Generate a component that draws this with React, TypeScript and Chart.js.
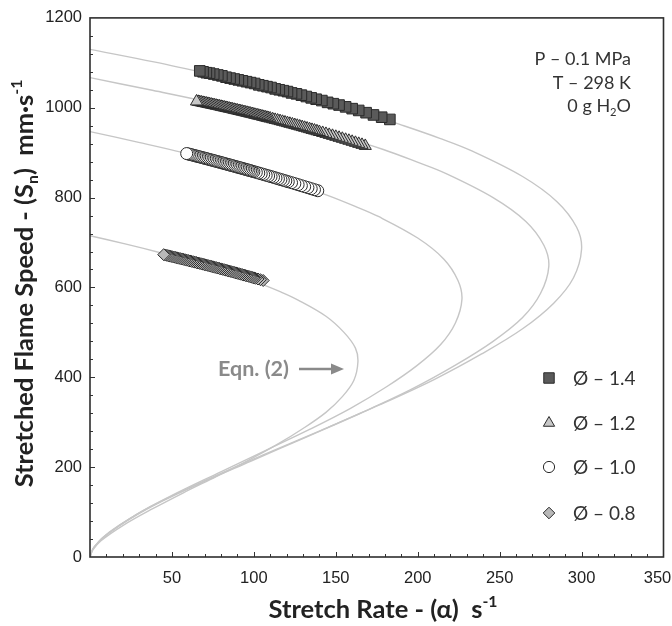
import React, { useEffect, useRef } from 'react';
import { Chart, registerables } from 'chart.js';

Chart.register(...registerables);

// ---------- data ----------
const xTickLabels = [50, 100, 150, 200, 250, 300, 350];
const yTickLabels = [0, 200, 400, 600, 800, 1000, 1200];
const seriesLabels = ['Ø – 1.4', 'Ø – 1.2', 'Ø – 1.0', 'Ø – 0.8'];

// measured points (stretch rate s^-1, stretched flame speed mm/s), in time order
const phi14Rate = [183, 178, 173, 168.5, 164, 160, 156, 152, 148.5, 145, 141.5, 138, 135, 132, 129, 126, 123, 120.5, 118, 115.5, 113, 110.5, 108, 105.5, 103, 100.5, 98, 95.5, 93, 90.5, 88, 85.5, 83, 80.5, 78, 75.5, 73, 71, 69, 67];
const phi14Speed = [974, 979, 984, 989, 994, 998, 1002, 1006, 1009, 1012, 1016, 1019, 1022, 1025, 1028, 1031, 1033, 1036, 1038, 1040, 1042, 1045, 1047, 1049, 1051, 1054, 1056, 1058, 1060, 1062, 1064, 1066, 1068, 1071, 1073, 1075, 1077, 1078, 1080, 1082];

const phi12Rate = [168, 166, 164, 162, 160, 158, 156, 154, 152, 150, 148, 146, 144, 142, 140,
  138.5, 137, 135.5, 134, 132.5, 131, 129.5, 128, 126.5, 125, 123.5, 122, 120.5, 119, 117.5, 116, 114.5, 113, 111.5, 110,
  109, 108, 107, 106, 105, 104, 103, 102, 101, 100, 99, 98, 97, 96, 95, 94, 93, 92, 91, 90, 89, 88, 87, 86, 85, 84, 83, 82, 81, 80, 79, 78, 77, 76, 75, 74, 73, 72, 71, 70, 69, 68, 67, 66, 65];
const phi12Speed = [915, 917.4, 919.6, 921.9, 924.2, 926.5, 928.7, 930.9, 933.1, 935.3, 937.5, 939.6, 941.8, 943.9, 946,
  947.6, 949.2, 950.7, 952.3, 953.8, 955.4, 956.9, 958.4, 959.9, 961.4, 962.9, 964.3, 965.8, 967.3, 968.7, 970.2, 971.6, 973, 974.4, 975.9,
  976.8, 977.7, 978.6, 979.6, 980.5, 981.4, 982.3, 983.2, 984.1, 985, 985.9, 986.8, 987.7, 988.6, 989.4, 990.3, 991.2, 992.1, 992.9, 993.8, 994.6, 995.5, 996.3, 997.2, 998, 998.9, 999.7, 1000.5, 1001.3, 1002.2, 1003, 1003.8, 1004.6, 1005.4, 1006.2, 1007, 1007.8, 1008.6, 1009.4, 1010.2, 1010.9, 1011.7, 1012.5, 1013.2, 1014];

const phi10Rate = [139, 137, 135, 133, 131, 129, 127, 125, 123, 121,
  119.5, 118, 116.5, 115, 113.5, 112, 110.5, 109, 107.5, 106, 104.5, 103, 101.5, 100,
  99, 98, 97, 96, 95, 94, 93, 92, 91, 90, 89, 88, 87, 86, 85, 84, 83, 82, 81, 80, 79, 78, 77, 76, 75, 74, 73, 72, 71, 70, 69, 68, 67, 66, 65, 64, 63, 62, 61, 60, 59];
const phi10Speed = [815.3, 817.6, 819.8, 822.1, 824.3, 826.5, 828.8, 831, 833.2, 835.3,
  837, 838.6, 840.2, 841.8, 843.5, 845.1, 846.7, 848.3, 849.8, 851.4, 853, 854.6, 856.1, 857.7,
  858.7, 859.8, 860.8, 861.8, 862.8, 863.9, 864.9, 865.9, 866.9, 867.9, 868.9, 869.9, 870.9, 871.9, 872.9, 873.9, 874.9, 875.9, 876.9, 877.9, 878.9, 879.9, 880.8, 881.8, 882.8, 883.8, 884.7, 885.7, 886.7, 887.6, 888.6, 889.5, 890.5, 891.4, 892.4, 893.3, 894.3, 895.2, 896.1, 897.1, 898];

const phi08Rate = [105.7, 104, 102.5, 101,
  100, 99, 98, 97, 96, 95, 94, 93, 92, 91, 90, 89, 88, 87, 86, 85, 84, 83, 82, 81, 80, 79, 78, 77, 76, 75, 74, 73, 72, 71, 70, 69, 68, 67, 66, 65, 64, 63, 62, 61, 60, 59, 58, 57, 56, 55, 54, 53, 52, 51, 50, 49, 48, 47, 46, 45];
const phi08Speed = [615.5, 617.3, 618.8, 620.4,
  621.4, 622.4, 623.5, 624.5, 625.5, 626.5, 627.5, 628.5, 629.5, 630.5, 631.5, 632.5, 633.5, 634.5, 635.5, 636.4, 637.4, 638.4, 639.4, 640.3, 641.3, 642.3, 643.2, 644.2, 645.1, 646.1, 647, 647.9, 648.9, 649.8, 650.8, 651.7, 652.6, 653.5, 654.4, 655.4, 656.3, 657.2, 658.1, 659, 659.9, 660.8, 661.7, 662.6, 663.5, 664.3, 665.2, 666.1, 667, 667.8, 668.7, 669.6, 670.4, 671.3, 672.1, 673];

// Eqn. (2) curves
const eqn14Rate = [0, 39, 75.5, 109, 139, 167, 191.5, 213.5, 233, 264, 285, 297, 300, 295, 283, 264, 239, 210, 177, 141, 105, 70, 37.5, 12, 2.6, 0];
const eqn14Speed = [1130, 1102, 1073, 1045, 1017, 989, 960, 932, 904, 847, 791, 734, 685, 621, 565, 508, 452, 395, 339, 282, 226, 170, 113, 56, 23, 0];

const eqn12Rate = [0, 36.5, 70.5, 101.5, 130, 155.5, 179, 199, 217, 246, 266, 277, 280, 275, 264, 246, 223, 196, 165, 132, 98, 65, 35, 11.4, 2.4, 0];
const eqn12Speed = [1067, 1040, 1014, 987, 960, 934, 907, 880, 854, 800, 747, 694, 647, 587, 533, 480, 427, 373, 320, 267, 213, 160, 107, 53, 21, 0];

const eqn10Rate = [0, 29.7, 57, 82, 105, 126, 145, 161.5, 176, 200, 216, 224.5, 227, 223, 214, 199.5, 181, 159, 134, 107, 79.5, 52.7, 28.4, 9.2, 1.9, 0];
const eqn10Speed = [947, 923, 900, 876, 852, 829, 805, 781, 758, 710, 663, 616, 574, 521, 473, 426, 379, 331, 284, 237, 189, 142, 95, 47, 19, 0];

const eqn08Rate = [0, 21.4, 41.2, 59.3, 76, 91, 104.4, 116.4, 127, 144, 155, 162, 163.5, 161, 154, 144, 130, 114, 96, 77, 57, 38, 20.5, 6.7, 1.4, 0];
const eqn08Speed = [715, 697, 679, 661, 643, 626, 608, 590, 572, 536, 500, 465, 434, 393, 357, 322, 286, 250, 214, 179, 143, 107, 71, 36, 14, 0];

const conditionLines = ['P – 0.1 MPa', 'T – 298 K'];

// ---------- styles ----------
const markerStyles = ['rect', 'triangle', 'circle', 'rectRot'];
const markerFills = ['#5a5a5a', '#c8c8c8', '#ffffff', '#b8b8b8'];
const markerRadii = [7.5, 7, 6, 6];
const legendRadii = [7.4, 6.5, 5.6, 5.8];
const TITLE_FAMILY = 'Lato, "Open Sans", sans-serif';
const TICK_FAMILY = '"Liberation Sans", Arial, sans-serif';
const INK = '#222222';

type Seg = { t: string; k?: 'sub' | 'sup' };

function richText(
  ctx: CanvasRenderingContext2D,
  segs: Seg[],
  x: number,
  y: number,
  size: number,
  weight: string,
  family: string,
  color: string,
  align: 'left' | 'right' | 'center'
) {
  const fontOf = (s: Seg) => `${weight} ${s.k ? size * 0.62 : size}px ${family}`;
  const widths = segs.map((s) => {
    ctx.font = fontOf(s);
    return ctx.measureText(s.t).width;
  });
  const total = widths.reduce((a, b) => a + b, 0);
  let cx = align === 'left' ? x : align === 'right' ? x - total : x - total / 2;
  ctx.fillStyle = color;
  ctx.textAlign = 'left';
  ctx.textBaseline = 'alphabetic';
  segs.forEach((s, i) => {
    ctx.font = fontOf(s);
    const dy = s.k === 'sub' ? size * 0.2 : s.k === 'sup' ? -size * 0.42 : 0;
    ctx.fillText(s.t, cx, y + dy);
    cx += widths[i];
  });
}

function marker(ctx: CanvasRenderingContext2D, style: string, x: number, y: number, r: number, fill: string) {
  ctx.save();
  ctx.beginPath();
  if (style === 'rect') {
    const s = r * Math.SQRT1_2;
    ctx.rect(x - s, y - s, 2 * s, 2 * s);
  } else if (style === 'triangle') {
    for (let i = 0; i < 3; i++) {
      const a = (i * 2 * Math.PI) / 3;
      const px = x + Math.sin(a) * r;
      const py = y - Math.cos(a) * r;
      if (i === 0) ctx.moveTo(px, py);
      else ctx.lineTo(px, py);
    }
    ctx.closePath();
  } else if (style === 'circle') {
    ctx.arc(x, y, r, 0, Math.PI * 2);
  } else {
    ctx.moveTo(x - r, y);
    ctx.lineTo(x, y - r);
    ctx.lineTo(x + r, y);
    ctx.lineTo(x, y + r);
    ctx.closePath();
  }
  ctx.fillStyle = fill;
  ctx.fill();
  ctx.lineWidth = 1;
  ctx.strokeStyle = '#2a2a2a';
  ctx.stroke();
  ctx.restore();
}

const decorPlugin = {
  id: 'decor',
  beforeDraw(chart: any) {
    const xs = chart.scales.x;
    if (xs && xs.getLabelItems) {
      const items = xs.getLabelItems();
      for (const it of items) {
        if (it.label === '350' && !it.__shifted) {
          it.options.translation[0] -= 6;
          it.__shifted = true;
        }
      }
    }
  },
  afterDraw(chart: any) {
    const ctx: CanvasRenderingContext2D = chart.ctx;
    const { left, right, top, bottom } = chart.chartArea;
    const xs = chart.scales.x;
    const ys = chart.scales.y;
    ctx.save();

    // inward tick marks
    ctx.strokeStyle = '#333';
    ctx.lineWidth = 1;
    xs.ticks.forEach((t: any) => {
      const v = t.value;
      if (v <= 0 || v >= 350) return;
      const px = Math.round(xs.getPixelForValue(v)) + 0.5;
      const len = v % 50 === 0 ? 5 : 3;
      ctx.beginPath();
      ctx.moveTo(px, bottom);
      ctx.lineTo(px, bottom - len);
      ctx.stroke();
    });
    ys.ticks.forEach((t: any) => {
      const v = t.value;
      if (v <= 0 || v >= 1200) return;
      const py = Math.round(ys.getPixelForValue(v)) + 0.5;
      const len = v % 200 === 0 ? 5 : 3;
      ctx.beginPath();
      ctx.moveTo(left, py);
      ctx.lineTo(left + len, py);
      ctx.stroke();
    });

    // frame
    ctx.lineWidth = 1.6;
    ctx.strokeStyle = '#2e2e2e';
    ctx.strokeRect(left, top, right - left, bottom - top);

    // axis titles
    richText(ctx, [{ t: 'Stretch Rate - (α)  s' }, { t: '-1', k: 'sup' }], 383, 618, 25.5, 'bold', TITLE_FAMILY, INK, 'center');
    ctx.save();
    ctx.translate(33, 283.5);
    ctx.rotate(-Math.PI / 2);
    richText(
      ctx,
      [{ t: 'Stretched Flame Speed - (S' }, { t: 'n', k: 'sub' }, { t: ')  mm·s' }, { t: '-1', k: 'sup' }],
      0,
      0,
      25.5,
      'bold',
      TITLE_FAMILY,
      INK,
      'center'
    );
    ctx.restore();

    // conditions
    richText(ctx, [{ t: conditionLines[0] }], 631, 65, 18, 'normal', TITLE_FAMILY, '#333', 'right');
    richText(ctx, [{ t: conditionLines[1] }], 631, 89, 18, 'normal', TITLE_FAMILY, '#333', 'right');
    richText(ctx, [{ t: '0 g H' }, { t: '2', k: 'sub' }, { t: 'O' }], 631, 112, 18, 'normal', TITLE_FAMILY, '#333', 'right');

    // Eqn. (2) label and arrow
    richText(ctx, [{ t: 'Eqn. (2)' }], 218, 376, 21.5, 'bold', TITLE_FAMILY, '#8a8a8a', 'left');
    ctx.strokeStyle = '#8a8a8a';
    ctx.fillStyle = '#8a8a8a';
    ctx.lineWidth = 2.5;
    ctx.beginPath();
    ctx.moveTo(299, 369);
    ctx.lineTo(333, 369);
    ctx.stroke();
    ctx.beginPath();
    ctx.moveTo(331, 363.5);
    ctx.lineTo(344, 369);
    ctx.lineTo(331, 374.5);
    ctx.closePath();
    ctx.fill();

    // legend
    const rows = [378, 423, 467, 513];
    seriesLabels.forEach((lab, i) => {
      marker(ctx, markerStyles[i], 549, rows[i], legendRadii[i], markerFills[i]);
      richText(ctx, [{ t: lab }], 573, rows[i] + 6.5, 19, 'normal', TITLE_FAMILY, '#333', 'left');
    });

    ctx.restore();
  },
};

function pts(xs: number[], ys: number[]) {
  return xs.map((x, i) => ({ x, y: ys[i] }));
}

export default function App() {
  const ref = useRef<HTMLCanvasElement>(null);

  useEffect(() => {
    if (!ref.current) return;
    const marks = [
      [phi14Rate, phi14Speed],
      [phi12Rate, phi12Speed],
      [phi10Rate, phi10Speed],
      [phi08Rate, phi08Speed],
    ];
    const curves = [
      [eqn14Rate, eqn14Speed],
      [eqn12Rate, eqn12Speed],
      [eqn10Rate, eqn10Speed],
      [eqn08Rate, eqn08Speed],
    ];
    const datasets: any[] = [];
    marks.forEach(([r, s], i) => {
      datasets.push({
        label: seriesLabels[i],
        data: pts(r, s),
        showLine: false,
        pointStyle: markerStyles[i],
        pointRadius: markerRadii[i],
        pointBackgroundColor: markerFills[i],
        pointBorderColor: '#2a2a2a',
        pointBorderWidth: 1,
      });
    });
    curves.forEach(([r, s], i) => {
      datasets.push({
        label: 'Eqn. (2) ' + seriesLabels[i],
        data: pts(r, s),
        showLine: true,
        tension: 0.35,
        pointRadius: 0,
        borderColor: '#c6c6c6',
        borderWidth: 1.4,
        fill: false,
      });
    });

    const chart = new Chart(ref.current, {
      type: 'scatter',
      data: { datasets },
      options: {
        animation: false,
        responsive: false,
        maintainAspectRatio: false,
        devicePixelRatio: 1,
        layout: { padding: { top: 17, right: 8, left: 0, bottom: 0 } },
        plugins: { legend: { display: false }, tooltip: { enabled: false } },
        scales: {
          x: {
            type: 'linear',
            min: 0,
            max: 350,
            afterFit: (s: any) => {
              s.height = 69;
              s.paddingRight = 0;
              s.paddingLeft = 0;
            },
            grid: { display: false, drawTicks: false },
            border: { display: false },
            ticks: {
              stepSize: 10,
              autoSkip: false,
              maxRotation: 0,
              minRotation: 0,
              padding: 12,
              color: INK,
              font: { family: TICK_FAMILY, size: 16.5 },
              callback: (v: any) => (xTickLabels.includes(Number(v)) ? String(v) : ''),
            },
          },
          y: {
            type: 'linear',
            min: 0,
            max: 1200,
            afterFit: (s: any) => {
              s.width = 90;
            },
            grid: { display: false, drawTicks: false },
            border: { display: false },
            ticks: {
              stepSize: 40,
              autoSkip: false,
              padding: 8,
              color: INK,
              font: { family: TICK_FAMILY, size: 16.5 },
              callback: (v: any) => (yTickLabels.includes(Number(v)) ? String(v) : ''),
            },
          },
        },
      },
      plugins: [decorPlugin],
    });
    return () => chart.destroy();
  }, []);

  return (
    <div style={{ position: 'absolute', left: 0, top: 0, width: 672, height: 626, background: '#fff' }}>
      <canvas ref={ref} width={672} height={626} style={{ display: 'block', width: 672, height: 626 }} />
    </div>
  );
}
